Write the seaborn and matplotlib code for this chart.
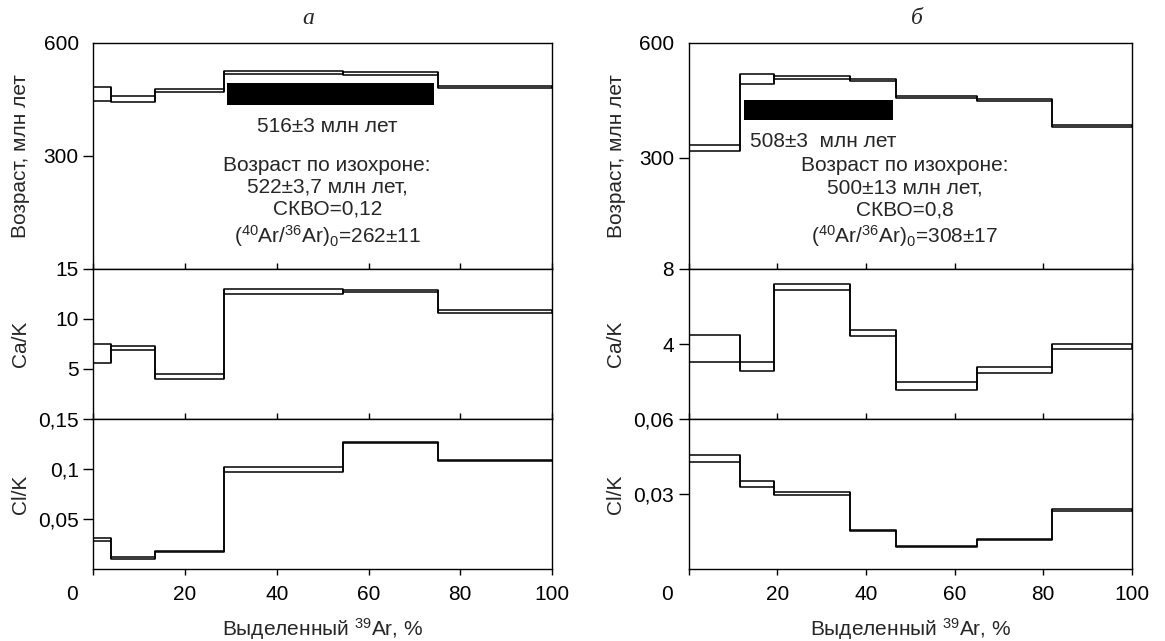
import matplotlib
matplotlib.use('Agg')
import matplotlib.pyplot as plt
import matplotlib.transforms as mtransforms
import seaborn as sns

# step boundaries, % of released 39Ar
edges_a = [0, 3.8, 13.4, 28.4, 54.4, 75.1, 100]
edges_b = [0, 11.7, 19.3, 36.4, 46.8, 65.0, 82.0, 100]

# sample а: upper / lower bounds for each step
age_hi_a = [481.6, 458, 478, 525, 521.6, 486]
age_lo_a = [444.7, 444, 470, 517, 513.7, 480]
cak_hi_a = [7.5, 7.27, 4.47, 13.0, 12.87, 10.93]
cak_lo_a = [5.6, 6.87, 4.0, 12.47, 12.73, 10.57]
clk_hi_a = [0.0313, 0.0123, 0.018, 0.1023, 0.1273, 0.1093]
clk_lo_a = [0.0283, 0.0097, 0.0175, 0.0973, 0.126, 0.1077]

# sample б
age_hi_b = [334.5, 519, 513.6, 506.6, 460, 453, 386.4]
age_lo_b = [317, 493, 506.6, 500.6, 455.7, 447, 379.4]
cak_hi_b = [4.46, 3.05, 7.19, 4.75, 1.95, 2.79, 3.98]
cak_lo_b = [3.05, 2.54, 6.88, 4.44, 1.53, 2.46, 3.72]
clk_hi_b = [0.0457, 0.0353, 0.0309, 0.0157, 0.0092, 0.0122, 0.0241]
clk_lo_b = [0.0428, 0.0329, 0.0296, 0.0151, 0.0090, 0.0117, 0.0234]

# plateau bars (x from-to, y from-to)
plateau_x_a = [29.1, 74.3]
plateau_y_a = [436, 493]
plateau_x_b = [12.6, 46.2]
plateau_y_b = [399, 451]

plateau_txt_a = '516±3 млн лет'
plateau_txt_b = '508±3  млн лет'
iso_txt_a = ('Возраст по изохроне:\n522±3,7 млн лет,\nСКВО=0,12\n'
             '($\\mathregular{^{40}}$Ar/$\\mathregular{^{36}}$Ar)$\\mathregular{_0}$=262±11')
iso_txt_b = ('Возраст по изохроне:\n500±13 млн лет,\nСКВО=0,8\n'
             '($\\mathregular{^{40}}$Ar/$\\mathregular{^{36}}$Ar)$\\mathregular{_0}$=308±17')

sns.set_theme(style='ticks')
plt.rcParams['font.family'] = ['Liberation Sans', 'DejaVu Sans']
plt.rcParams['mathtext.fontset'] = 'custom'
plt.rcParams['mathtext.rm'] = 'Liberation Sans'
plt.rcParams['mathtext.it'] = 'Liberation Sans:italic'
plt.rcParams['axes.linewidth'] = 1.0
plt.rcParams['axes.edgecolor'] = 'black'
plt.rcParams['xtick.color'] = 'black'
plt.rcParams['ytick.color'] = 'black'
FS = 15

W, H = 1165, 641
fig = plt.figure(figsize=(W / 100, H / 100), dpi=100)


def px_axes(x0, x1, y0, y1):
    return fig.add_axes([x0 / W, 1 - y1 / H, (x1 - x0) / W, (y1 - y0) / H])


def spectrum(ax, edges, hi, lo):
    sns.lineplot(x=edges, y=hi + [hi[-1]], drawstyle='steps-post', color='black', lw=1.1, ax=ax)
    sns.lineplot(x=edges, y=lo + [lo[-1]], drawstyle='steps-post', color='black', lw=1.1, ax=ax)
    ax.vlines(edges[:-1], lo, hi, color='black', lw=1.1)
    ax.vlines(edges[1:], lo, hi, color='black', lw=1.1)


cols = [
    dict(x0=93.3, x1=552, edges=edges_a, age=(age_hi_a, age_lo_a), cak=(cak_hi_a, cak_lo_a),
         clk=(clk_hi_a, clk_lo_a), px=plateau_x_a, py=plateau_y_a, ptxt=plateau_txt_a,
         ppos=(51, 378), itxt=iso_txt_a, ipos=(51, 177), age_lim=(0, 600),
         cak_lim=(0, 15), cak_ticks=[5, 10, 15], cak_lbl=['5', '10', '15'],
         clk_lim=(0, 0.15), clk_ticks=[0.05, 0.1, 0.15], clk_lbl=['0,05', '0,1', '0,15'],
         title='а', tx=308),
    dict(x0=688.5, x1=1132, edges=edges_b, age=(age_hi_b, age_lo_b), cak=(cak_hi_b, cak_lo_b),
         clk=(clk_hi_b, clk_lo_b), px=plateau_x_b, py=plateau_y_b, ptxt=plateau_txt_b,
         ppos=(30.3, 343), itxt=iso_txt_b, ipos=(48.8, 183), age_lim=(10, 600),
         cak_lim=(0, 8), cak_ticks=[4, 8], cak_lbl=['4', '8'],
         clk_lim=(0, 0.06), clk_ticks=[0.03, 0.06], clk_lbl=['0,03', '0,06'],
         title='б', tx=917),
]

for c in cols:
    ax1 = px_axes(c['x0'], c['x1'], 42.7, 269)
    ax2 = px_axes(c['x0'], c['x1'], 269, 419)
    ax3 = px_axes(c['x0'], c['x1'], 419, 569)
    ylab_x = -63 / (c['x1'] - c['x0'])

    spectrum(ax1, c['edges'], *c['age'])
    ax1.bar(c['px'][0], c['py'][1] - c['py'][0], width=c['px'][1] - c['px'][0],
            bottom=c['py'][0], align='edge', color='black', lw=0)
    ax1.text(c['ppos'][0], c['ppos'][1], c['ptxt'], ha='center', va='center', fontsize=FS)
    ax1.text(c['ipos'][0], c['ipos'][1], c['itxt'], ha='center', va='center',
             fontsize=FS, linespacing=1.2)
    ax1.set_ylim(*c['age_lim'])
    ax1.set_yticks([300, 600], ['300', '600'])
    ax1.set_ylabel('Возраст, млн лет', fontsize=FS)

    spectrum(ax2, c['edges'], *c['cak'])
    ax2.set_ylim(*c['cak_lim'])
    ax2.set_yticks(c['cak_ticks'], c['cak_lbl'])
    ax2.set_ylabel('Ca/K', fontsize=FS)

    spectrum(ax3, c['edges'], *c['clk'])
    ax3.set_ylim(*c['clk_lim'])
    ax3.set_yticks(c['clk_ticks'], c['clk_lbl'])
    ax3.set_ylabel('Cl/K', fontsize=FS)
    ax3.set_xlabel('Выделенный $\\mathregular{^{39}}$Ar, %', fontsize=FS, labelpad=9)

    for ax in (ax1, ax2, ax3):
        ax.set_xlim(0, 100)
        ax.set_xticks([0, 20, 40, 60, 80, 100])
        ax.tick_params(axis='y', direction='out', length=7, width=1.0, pad=3.5, labelsize=FS)
        ax.yaxis.set_label_coords(ylab_x, 0.5)
        for s in ax.spines.values():
            s.set_visible(True)
            s.set_linewidth(1.0)
    for ax in (ax1, ax2):
        ax.tick_params(axis='x', direction='in', length=4.5, width=1.0, labelbottom=False)
    ax3.tick_params(axis='x', direction='out', length=4.5, width=1.0, pad=7, labelsize=FS)

    # no tick mark at the top of the age axis
    ax1.yaxis.get_major_ticks()[-1].tick1line.set_visible(False)
    # the "0" label sits left of the axis corner
    lbl0 = ax3.get_xticklabels()[0]
    lbl0.set_transform(lbl0.get_transform()
                       + mtransforms.ScaledTranslation(-0.21, 0, fig.dpi_scale_trans))

    fig.text(c['tx'] / W, 1 - 18 / H, c['title'], ha='center', va='center',
             fontsize=17, fontstyle='italic', family=['Liberation Serif', 'DejaVu Serif'])

fig.savefig('out.png', dpi=100)
